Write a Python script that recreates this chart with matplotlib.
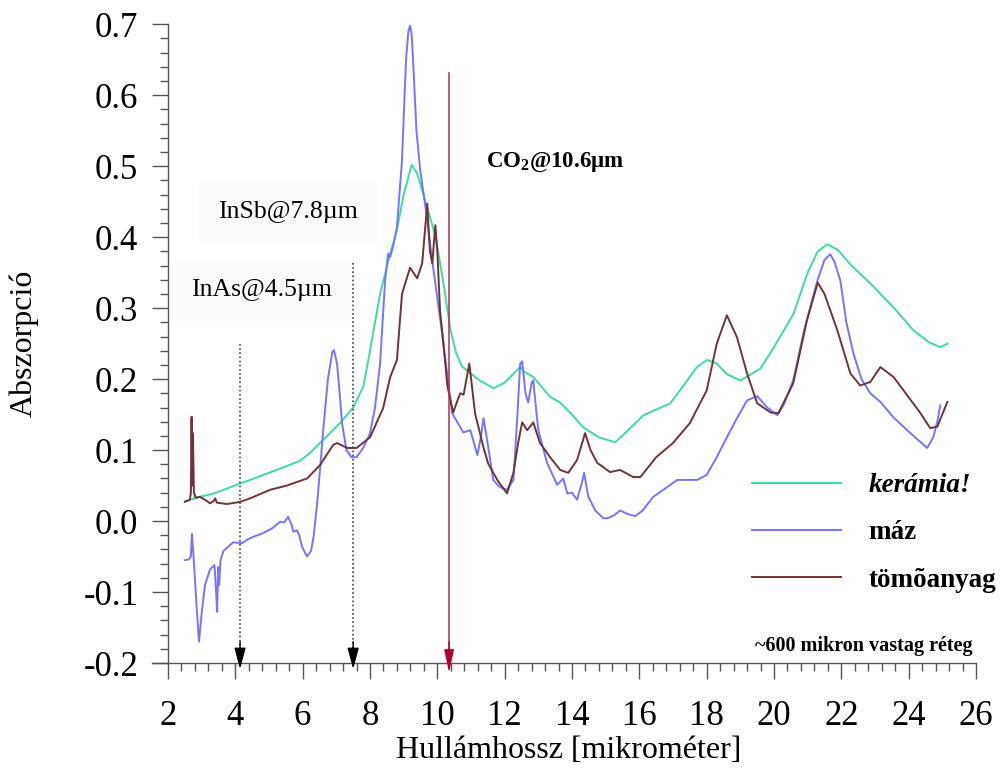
import numpy as np
import matplotlib
matplotlib.use("Agg")
import matplotlib.pyplot as plt
from matplotlib.ticker import FixedLocator, MultipleLocator, FormatStrFormatter

plt.rcParams['font.family'] = ['Liberation Serif', 'DejaVu Serif']
plt.rcParams['axes.unicode_minus'] = False
plt.rcParams['mathtext.fontset'] = 'custom'
plt.rcParams['mathtext.rm'] = 'Liberation Serif'
plt.rcParams['mathtext.bf'] = 'Liberation Serif:bold'

# kerámia! (green)
ker_x = [2.50, 2.65, 2.80, 3.00, 3.30, 3.60, 4.14, 4.50, 5.00, 5.50, 5.92, 6.22, 6.60, 7.11,
         7.50, 7.80, 8.00, 8.30, 8.60, 8.80, 9.00, 9.24, 9.40, 9.70, 9.95, 10.20, 10.38, 10.55,
         10.73, 11.20, 11.67, 12.00, 12.46, 12.60, 12.85, 13.35, 13.65, 14.00, 14.33, 14.80,
         15.28, 15.60, 16.12, 16.50, 16.92, 17.30, 17.71, 18.01, 18.30, 18.60, 19.00, 19.60,
         20.00, 20.58, 21.00, 21.30, 21.58, 21.90, 22.30, 22.86, 23.55, 24.14, 24.60, 24.94,
         25.15]
ker_y = [0.028, 0.030, 0.032, 0.035, 0.038, 0.043, 0.053, 0.059, 0.068, 0.077, 0.085, 0.096,
         0.114, 0.138, 0.160, 0.189, 0.240, 0.320, 0.377, 0.410, 0.460, 0.502, 0.490, 0.442,
         0.400, 0.330, 0.272, 0.238, 0.218, 0.200, 0.187, 0.195, 0.217, 0.210, 0.203, 0.175,
         0.167, 0.150, 0.132, 0.118, 0.111, 0.125, 0.149, 0.157, 0.166, 0.190, 0.217, 0.227,
         0.222, 0.207, 0.198, 0.215, 0.245, 0.292, 0.350, 0.380, 0.390, 0.382, 0.360, 0.335,
         0.301, 0.269, 0.252, 0.245, 0.250]

# máz (blue)
maz_x = [2.50, 2.62, 2.68, 2.71, 2.76, 2.85, 2.92, 3.00, 3.10, 3.25, 3.38, 3.43, 3.46, 3.49,
         3.52, 3.56, 3.65, 3.93, 4.20, 4.44, 4.82, 5.10, 5.33, 5.45, 5.57, 5.67, 5.72, 5.83,
         5.90, 5.98, 6.13, 6.25, 6.33, 6.43, 6.52, 6.61, 6.75, 6.88, 6.93, 7.02, 7.10, 7.17,
         7.30, 7.45, 7.60, 7.80, 8.00, 8.15, 8.30, 8.45, 8.54, 8.60, 8.70, 8.80, 8.95, 9.07,
         9.14, 9.19, 9.24, 9.30, 9.38, 9.49, 9.64, 9.84, 10.13, 10.38, 10.44, 10.77, 10.98,
         11.19, 11.30, 11.37, 11.48, 11.66, 11.85, 12.07, 12.26, 12.38, 12.46, 12.52, 12.62,
         12.70, 12.80, 12.85, 12.95, 13.00, 13.26, 13.56, 13.74, 13.86, 14.00, 14.15, 14.30,
         14.36, 14.48, 14.69, 14.93, 15.05, 15.25, 15.43, 15.65, 15.88, 16.10, 16.41, 16.80,
         17.13, 17.72, 18.00, 18.30, 18.60, 18.90, 19.20, 19.50, 19.80, 20.10, 20.30, 20.57,
         20.90, 21.29, 21.50, 21.67, 21.80, 21.97, 22.15, 22.36, 22.60, 22.86, 23.16, 23.55,
         24.05, 24.55, 24.73, 24.85, 24.94]
maz_y = [-0.055, -0.054, -0.050, -0.018, -0.050, -0.120, -0.170, -0.130, -0.090, -0.068,
         -0.062, -0.100, -0.128, -0.065, -0.090, -0.055, -0.042, -0.030, -0.031, -0.024,
         -0.017, -0.010, -0.001, -0.002, 0.006, -0.005, -0.015, -0.013, -0.020, -0.036,
         -0.050, -0.042, -0.020, 0.025, 0.075, 0.128, 0.200, 0.238, 0.241, 0.222, 0.180,
         0.138, 0.100, 0.090, 0.090, 0.103, 0.124, 0.160, 0.222, 0.340, 0.377, 0.372, 0.390,
         0.414, 0.508, 0.650, 0.690, 0.698, 0.685, 0.630, 0.550, 0.495, 0.445, 0.370, 0.269,
         0.175, 0.152, 0.125, 0.128, 0.093, 0.120, 0.145, 0.114, 0.058, 0.048, 0.044, 0.058,
         0.150, 0.222, 0.225, 0.180, 0.167, 0.195, 0.198, 0.150, 0.128, 0.082, 0.051, 0.060,
         0.039, 0.040, 0.030, 0.055, 0.068, 0.035, 0.015, 0.004, 0.004, 0.008, 0.015, 0.010,
         0.007, 0.015, 0.034, 0.047, 0.058, 0.058, 0.065, 0.090, 0.118, 0.145, 0.170, 0.176,
         0.160, 0.149, 0.165, 0.198, 0.270, 0.339, 0.368, 0.376, 0.365, 0.339, 0.280, 0.236,
         0.200, 0.180, 0.168, 0.146, 0.124, 0.103, 0.118, 0.140, 0.163]

# tömõanyag (brown)
tom_x = [2.50, 2.65, 2.68, 2.70, 2.72, 2.74, 2.77, 2.82, 2.95, 3.10, 3.25, 3.35, 3.40, 3.45,
         3.75, 4.14, 4.44, 5.03, 5.53, 6.13, 6.52, 6.90, 7.02, 7.15, 7.32, 7.60, 8.00, 8.39,
         8.60, 8.80, 8.95, 9.19, 9.40, 9.55, 9.70, 9.78, 9.85, 9.94, 10.00, 10.08, 10.18,
         10.30, 10.47, 10.60, 10.68, 10.78, 10.95, 11.12, 11.37, 11.51, 11.78, 12.07, 12.26,
         12.40, 12.52, 12.67, 12.85, 13.05, 13.35, 13.65, 13.89, 14.15, 14.39, 14.55, 14.75,
         15.13, 15.43, 15.82, 16.03, 16.50, 17.00, 17.50, 18.00, 18.30, 18.60, 18.90, 19.20,
         19.50, 19.90, 20.13, 20.57, 20.98, 21.30, 21.50, 21.88, 22.27, 22.56, 22.86, 23.16,
         23.55, 23.85, 24.35, 24.64, 24.85, 25.15]
tom_y = [0.027, 0.030, 0.040, 0.147, 0.050, 0.124, 0.040, 0.033, 0.034, 0.030, 0.025, 0.028,
         0.032, 0.026, 0.024, 0.027, 0.032, 0.044, 0.050, 0.060, 0.079, 0.107, 0.110, 0.107,
         0.103, 0.103, 0.118, 0.159, 0.203, 0.227, 0.320, 0.357, 0.342, 0.363, 0.447, 0.380,
         0.363, 0.417, 0.380, 0.297, 0.250, 0.190, 0.153, 0.170, 0.180, 0.178, 0.222, 0.152,
         0.104, 0.081, 0.058, 0.039, 0.068, 0.110, 0.139, 0.128, 0.139, 0.110, 0.090, 0.072,
         0.068, 0.086, 0.124, 0.100, 0.082, 0.069, 0.072, 0.062, 0.062, 0.090, 0.110, 0.138,
         0.184, 0.250, 0.290, 0.259, 0.208, 0.166, 0.153, 0.152, 0.194, 0.283, 0.336, 0.320,
         0.269, 0.208, 0.191, 0.196, 0.217, 0.203, 0.184, 0.152, 0.131, 0.133, 0.168]

labels = ['kerámia!', 'máz', 'tömõanyag']
colors = ['#3ddc9c', '#7474ff', '#703434']

# detector / laser marker lines
det_x = [4.14, 7.50]
det_top = [0.25, 0.363]
laser_x = 10.35
laser_top = 0.632

fig = plt.figure(figsize=(10.02, 7.70), dpi=100)
ax = fig.add_axes([152 / 1002, 1 - 663 / 770, (976 - 152) / 1002, (663 - 24.3) / 770])

l1, = ax.plot(ker_x, ker_y, color=colors[0], lw=1.4)
l2, = ax.plot(maz_x, maz_y, color=colors[1], lw=1.4)
l3, = ax.plot(tom_x, tom_y, color=colors[2], lw=1.4)

ax.set_xlim(1.525, 26)
ax.set_ylim(-0.2, 0.7)
for s in ['top', 'right']:
    ax.spines[s].set_visible(False)
ax.spines['left'].set_position(('data', 2))
for s in ['left', 'bottom']:
    ax.spines[s].set_color('#555555')
    ax.spines[s].set_linewidth(1.0)

ax.xaxis.set_major_locator(FixedLocator(np.arange(2, 26.1, 2)))
ax.xaxis.set_minor_locator(FixedLocator(np.arange(2, 26.01, 0.4)))
ax.yaxis.set_major_locator(MultipleLocator(0.1))
ax.yaxis.set_minor_locator(MultipleLocator(0.02))
ax.yaxis.set_major_formatter(FormatStrFormatter('%.1f'))
ax.xaxis.set_major_formatter(FormatStrFormatter('%d'))
ax.tick_params(which='major', length=11.5, width=1.0, color='#555555', labelsize=25)
ax.tick_params(which='minor', length=6, width=1.0, color='#555555')
ax.tick_params(axis='x', which='major', pad=15)
ax.tick_params(axis='y', which='major', pad=10)

# dotted detector lines with arrowheads
for xv, top in zip(det_x, det_top):
    ax.plot([xv, xv], [top, -0.19], color='#444444', lw=1.2, ls=(0, (1, 1.5)))
    ax.annotate('', xy=(xv, -0.2085), xytext=(xv, -0.17),
                arrowprops=dict(arrowstyle='-|>,head_length=1.3,head_width=0.35',
                                color='black', lw=1.0, shrinkA=0, shrinkB=0),
                annotation_clip=False)

ax.plot([laser_x, laser_x], [laser_top, -0.19], color='#b03050', lw=1.1)
ax.annotate('', xy=(laser_x, -0.2135), xytext=(laser_x, -0.17),
            arrowprops=dict(arrowstyle='-|>,head_length=1.4,head_width=0.3',
                            color='#b00030', lw=1.0, shrinkA=0, shrinkB=0),
            annotation_clip=False)

box = dict(boxstyle='square,pad=0.75', facecolor='#fbfbfb', edgecolor='none')
ax.text(5.57, 0.436, 'InSb@7.8µm', fontsize=18.5, ha='center', va='center', bbox=box)
ax.text(4.79, 0.325, 'InAs@4.5µm', fontsize=18.5, ha='center', va='center', bbox=box)
ax.text(13.5, 0.505, r'CO$_{\mathbf{2}}$@10.6µm', fontsize=16.5, fontweight='bold',
        ha='center', va='center')
ax.text(25.89, -0.176, '~600 mikron vastag réteg', fontsize=14.5, fontweight='bold',
        ha='right', va='center')

leg = ax.legend([l1, l2, l3], labels, loc='upper left',
                bbox_to_anchor=(752 / 1002, 1 - 473 / 770), bbox_transform=fig.transFigure,
                frameon=False, borderpad=0, borderaxespad=0, handlelength=3.3,
                handletextpad=1.0, labelspacing=0.83,
                prop={'size': 19.5, 'weight': 'bold'})
leg.get_texts()[0].set_fontstyle('italic')

fig.text(24 / 1002, 1 - 343 / 770, 'Abszorpció', rotation=90, fontsize=23,
         ha='center', va='center')
fig.text(569 / 1002, 1 - 750 / 770, 'Hullámhossz [mikrométer]', fontsize=23,
         ha='center', va='center')

fig.savefig('out.png', dpi=100)
